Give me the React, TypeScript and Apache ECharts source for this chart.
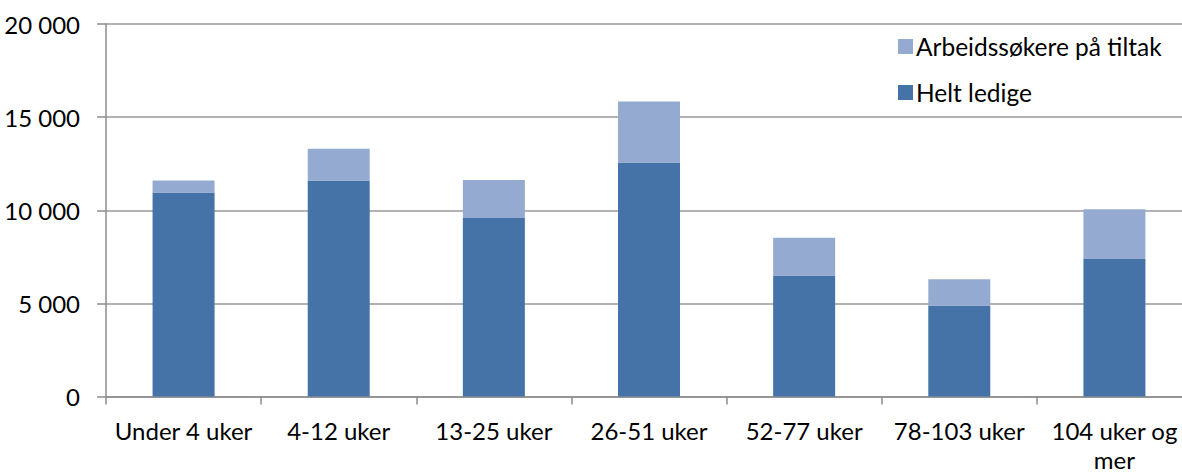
import React, { useEffect, useRef } from "react";
import * as echarts from "echarts";

const categories = ["Under 4 uker", "4-12 uker", "13-25 uker", "26-51 uker", "52-77 uker", "78-103 uker", "104 uker og mer"];
const heltLedige = [10950, 11600, 9580, 12560, 6490, 4880, 7380];
const paTiltak = [650, 1700, 2050, 3280, 2040, 1410, 2670];
const yTicks = [0, 5000, 10000, 15000, 20000];

const FONT = "Lato, 'Open Sans', sans-serif";

export default function App() {
  const ref = useRef<HTMLDivElement>(null);
  useEffect(() => {
    if (!ref.current) return;
    const chart = echarts.init(ref.current, undefined, { renderer: "svg" });
    chart.setOption({
      animation: false,
      backgroundColor: "#ffffff",
      textStyle: { fontFamily: FONT },
      legend: {
        orient: "vertical",
        left: 893,
        top: 29,
        itemWidth: 15,
        itemHeight: 15,
        itemGap: 21,
        icon: "rect",
        data: ["Arbeidssøkere på tiltak", "Helt ledige"],
        textStyle: { fontFamily: FONT, fontSize: 24.5, color: "#000", padding: [0, 0, 0, -2] },
      },
      grid: { left: 106, right: 8, top: 24, bottom: 76.5, outerBoundsMode: "none", containLabel: false },
      xAxis: {
        type: "category",
        data: categories,
        axisLine: { lineStyle: { color: "#8c8c8c", width: 1.5 } },
        axisTick: { show: true, length: 8, lineStyle: { color: "#8c8c8c", width: 1.5 } },
        axisLabel: {
          color: "#000",
          fontFamily: FONT,
          fontSize: 24,
          margin: 19,
          lineHeight: 29,
          interval: 0,
          formatter: (v: string) => v.replace(" og mer", " og\nmer"),
        },
      },
      yAxis: {
        type: "value",
        min: yTicks[0],
        max: yTicks[yTicks.length - 1],
        interval: 5000,
        axisLine: { show: true, lineStyle: { color: "#8c8c8c", width: 1.5 } },
        axisTick: { show: true, length: 9, lineStyle: { color: "#8c8c8c", width: 1.5 } },
        splitLine: { lineStyle: { color: "#9a9a9a", width: 1.5 } },
        axisLabel: {
          color: "#000",
          fontFamily: FONT,
          fontSize: 24,
          margin: 26,
          formatter: (v: number) => String(v).replace(/\B(?=(\d{3})+(?!\d))/g, " "),
        },
      },
      series: [
        {
          name: "Helt ledige",
          type: "bar",
          stack: "total",
          data: heltLedige,
          barWidth: 62,
          itemStyle: { color: "#4573a7" },
        },
        {
          name: "Arbeidssøkere på tiltak",
          type: "bar",
          stack: "total",
          data: paTiltak,
          barWidth: 62,
          itemStyle: { color: "#95aad1" },
        },
      ],
    });
    return () => chart.dispose();
  }, []);
  return (
    <div
      ref={ref}
      style={{ position: "fixed", left: 0, top: 0, width: 1200, height: 473, overflow: "hidden" }}
    />
  );
}
